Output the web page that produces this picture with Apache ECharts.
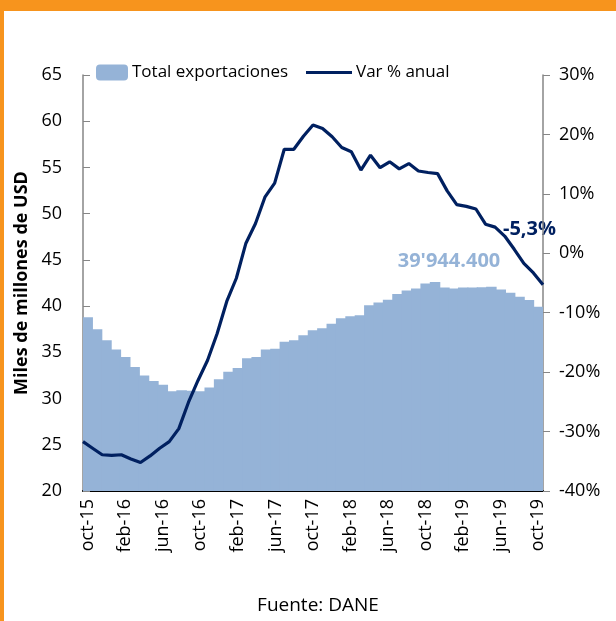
<!DOCTYPE html>
<html>
<head>
<meta charset="utf-8">
<script src="https://cdn.jsdelivr.net/npm/echarts@6/dist/echarts.min.js"></script>
<style>
  html, body { margin: 0; padding: 0; background: #fff; }
  #chart { width: 616px; height: 621px; }
</style>
</head>
<body>
<div id="chart"></div>
<script>
const months = [
  'oct-15', 'nov-15', 'dic-15', 'ene-16', 'feb-16', 'mar-16', 'abr-16', 'may-16', 'jun-16', 'jul-16', 'ago-16', 'sep-16',
  'oct-16', 'nov-16', 'dic-16', 'ene-17', 'feb-17', 'mar-17', 'abr-17', 'may-17', 'jun-17', 'jul-17', 'ago-17', 'sep-17',
  'oct-17', 'nov-17', 'dic-17', 'ene-18', 'feb-18', 'mar-18', 'abr-18', 'may-18', 'jun-18', 'jul-18', 'ago-18', 'sep-18',
  'oct-18', 'nov-18', 'dic-18', 'ene-19', 'feb-19', 'mar-19', 'abr-19', 'may-19', 'jun-19', 'jul-19', 'ago-19', 'sep-19',
  'oct-19'
]

// miles de millones de USD (acumulado 12 meses)
const totalExport = [
  38.8, 37.5, 36.3, 35.3, 34.5, 33.4, 32.5, 31.9, 31.5, 30.8, 30.9, 30.85,
  30.8, 31.2, 32.1, 32.9, 33.3, 34.35, 34.5, 35.3, 35.4, 36.15, 36.3, 36.85,
  37.4, 37.6, 38.1, 38.7, 38.9, 39.0, 40.1, 40.4, 40.7, 41.3, 41.7, 41.9,
  42.45, 42.6, 42.0, 41.9, 42.0, 42.0, 42.05, 42.1, 41.8, 41.45, 41.0, 40.65,
  39.94
]

// variación % anual
const varAnual = [
  -31.7, -32.8, -33.9, -34.0, -33.9, -34.6, -35.2, -34.1, -32.8, -31.7, -29.5, -25.1,
  -21.4, -18.0, -13.5, -8.1, -4.2, 1.7, 5.0, 9.5, 11.8, 17.5, 17.5, 19.7,
  21.6, 21.0, 19.6, 17.8, 17.1, 14.0, 16.5, 14.4, 15.4, 14.2, 15.1, 13.85,
  13.6, 13.4, 10.5, 8.2, 7.9, 7.45, 4.9, 4.4, 2.9, 0.67, -1.7, -3.3,
  -5.3
]

const font = 'Open Sans'
const chart = echarts.init(document.getElementById('chart'))

chart.setOption({
  backgroundColor: '#fff',
  animation: false,
  grid: { left: 83, right: 73, top: 75, bottom: 130 },
  legend: [
    {
      left: 91, top: 59, itemWidth: 32, itemHeight: 16, itemGap: 6,
      data: [{ name: 'Total exportaciones', icon: 'roundRect' }],
      textStyle: { fontFamily: font, fontSize: 17, color: '#000', padding: [0, 0, 0, -1] },
    },
    {
      left: 301, top: 59, itemWidth: 46, itemHeight: 3,
      data: [{ name: 'Var % anual', icon: 'rect' }],
      textStyle: { fontFamily: font, fontSize: 17, color: '#000', padding: [0, 0, 0, -1] },
    },
  ],
  xAxis: [
    {
      type: 'category',
      data: months,
      boundaryGap: true,
      axisLine: { onZero: false, lineStyle: { color: '#000', width: 2 } },
      axisTick: { show: false },
      axisLabel: { interval: 3, rotate: 90, fontFamily: font, fontSize: 18, color: '#000', margin: 8 },
    },
    {
      type: 'category',
      data: months,
      boundaryGap: false,
      show: false,
    },
  ],
  yAxis: [
    {
      type: 'value',
      min: 20, max: 65, interval: 5,
      splitLine: { show: false },
      axisLine: { show: true, lineStyle: { color: '#868686', width: 1.5 } },
      axisTick: { show: true, inside: true, length: 7, lineStyle: { color: '#868686' } },
      axisLabel: { fontFamily: font, fontSize: 18, color: '#000', margin: 21 },
      name: 'Miles de millones de USD',
      nameLocation: 'middle',
      nameGap: 50,
      nameTextStyle: { fontFamily: font, fontSize: 18, fontWeight: 'bold', color: '#000' },
    },
    {
      type: 'value',
      position: 'right',
      min: -40, max: 30, interval: 10,
      splitLine: { show: false },
      axisLine: { show: true, lineStyle: { color: '#868686', width: 1.5 } },
      axisTick: { show: true, length: 7, lineStyle: { color: '#868686' } },
      axisLabel: { fontFamily: font, fontSize: 18, color: '#000', margin: 16, formatter: '{value}%' },
    },
  ],
  series: [
    {
      name: 'Total exportaciones',
      type: 'bar',
      data: totalExport,
      barWidth: 10.5,
      itemStyle: { color: '#95B3D7' },
    },
    {
      name: 'Var % anual',
      type: 'line',
      xAxisIndex: 1,
      yAxisIndex: 1,
      data: varAnual,
      symbol: 'none',
      lineStyle: { color: '#002060', width: 3.2 },
      itemStyle: { color: '#002060' },
    },
  ],
  graphic: [
    { type: 'rect', left: 0, top: 0, shape: { width: 616, height: 11 }, style: { fill: '#F7941D' } },
    { type: 'rect', left: 0, top: 0, shape: { width: 4, height: 621 }, style: { fill: '#F7941D' } },
    {
      type: 'text', x: 449, y: 261,
      style: { text: "39'944.400", fill: '#95B3D7', font: 'bold 20px "Open Sans"', align: 'center', verticalAlign: 'middle' },
    },
    {
      type: 'text', x: 556, y: 229,
      style: { text: '-5,3%', fill: '#002060', font: 'bold 20px "Open Sans"', align: 'right', verticalAlign: 'middle' },
    },
    {
      type: 'text', x: 318, y: 606,
      style: { text: 'Fuente: DANE', fill: '#000', font: '19px "Open Sans"', align: 'center', verticalAlign: 'middle' },
    },
  ],
})
</script>
</body>
</html>
